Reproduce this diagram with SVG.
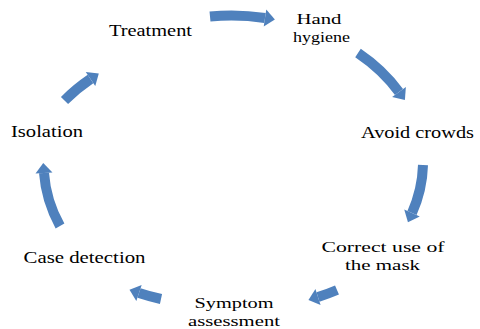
<svg xmlns="http://www.w3.org/2000/svg" width="480" height="329" viewBox="0 0 480 329">
<style>
  .lbl { font-family: "Liberation Serif", "Times New Roman", Times, serif; font-size: 16.5px; fill: #000; text-anchor: middle; }
  .two { font-size: 15.5px; }
  .arr { fill: none; stroke: #4F81BD; stroke-width: 10; stroke-linecap: butt; marker-end: url(#head); }
</style>
<defs>
  <marker id="head" markerUnits="userSpaceOnUse" markerWidth="20" markerHeight="20" refX="0" refY="0" orient="auto" viewBox="-1 -10 14 20" overflow="visible">
    <path d="M0,-8.5 L10,0 L0,8.5 Z" fill="#4F81BD"/>
  </marker>
</defs>
<rect width="480" height="329" fill="#fff"/>
<g id="connectors">
  <path class="arr" d="M210,16.5 A185,151 0 0 1 265,18"/>
  <path class="arr" d="M358,53 A185,151 0 0 1 399,92"/>
  <path class="arr" d="M423,165 A185,151 0 0 1 412,213"/>
  <path class="arr" d="M337,290 A185,151 0 0 1 318,297"/>
  <path class="arr" d="M161,299 A185,151 0 0 1 139,293"/>
  <path class="arr" d="M60,226 A185,151 0 0 1 44,173"/>
  <path class="arr" d="M64.5,100.5 A185,151 0 0 1 90.5,79"/>
</g>
<g id="treatment"><text class="lbl" x="150.5" y="36" textLength="83" lengthAdjust="spacingAndGlyphs">Treatment</text></g>
<g id="hand-hygiene">
  <text class="lbl two" x="319" y="24.3" textLength="45" lengthAdjust="spacingAndGlyphs">Hand</text>
  <text class="lbl two" x="321.5" y="41.8" textLength="57" lengthAdjust="spacingAndGlyphs">hygiene</text>
</g>
<g id="avoid-crowds"><text class="lbl" x="417.5" y="137.5" textLength="113" lengthAdjust="spacingAndGlyphs">Avoid crowds</text></g>
<g id="correct-use">
  <text class="lbl two" x="383" y="252.3" textLength="123" lengthAdjust="spacingAndGlyphs">Correct use of</text>
  <text class="lbl two" x="382.5" y="269.8" textLength="75" lengthAdjust="spacingAndGlyphs">the mask</text>
</g>
<g id="symptom-assessment">
  <text class="lbl two" x="234" y="308.3" textLength="79" lengthAdjust="spacingAndGlyphs">Symptom</text>
  <text class="lbl two" x="234" y="325.8" textLength="92" lengthAdjust="spacingAndGlyphs">assessment</text>
</g>
<g id="case-detection"><text class="lbl" x="84.5" y="263" textLength="122" lengthAdjust="spacingAndGlyphs">Case detection</text></g>
<g id="isolation"><text class="lbl" x="47" y="137" textLength="72" lengthAdjust="spacingAndGlyphs">Isolation</text></g>
</svg>
